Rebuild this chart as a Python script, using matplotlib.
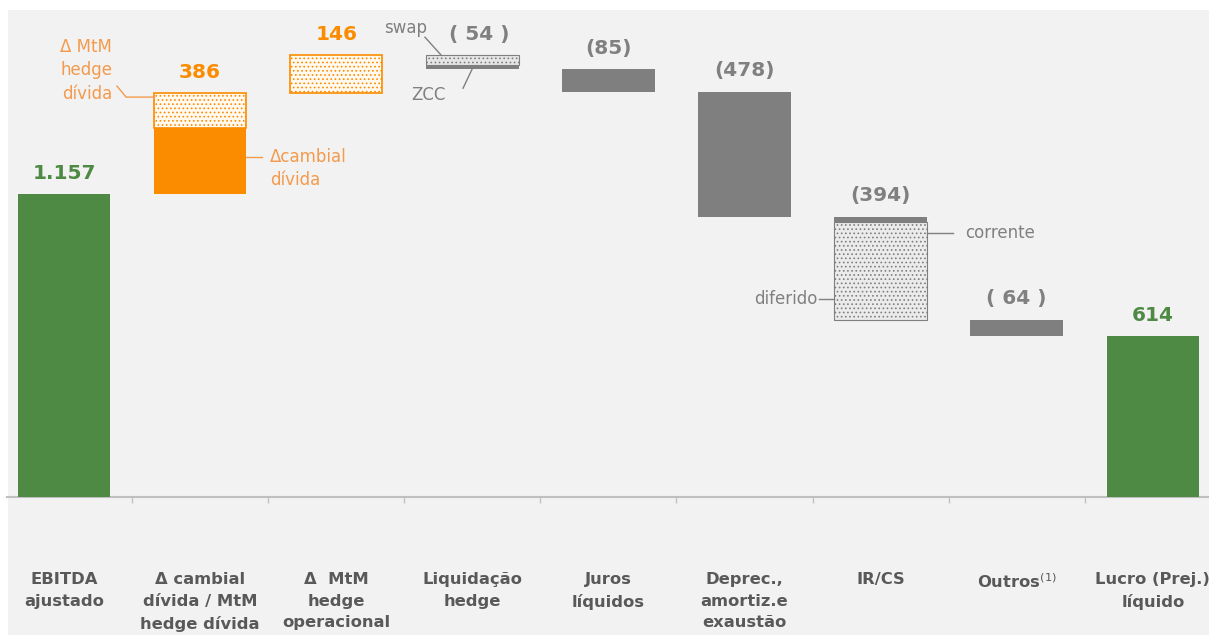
import matplotlib
matplotlib.use("Agg")
import matplotlib.pyplot as plt
from matplotlib.patches import Rectangle

# waterfall data (R$ milhoes)
categories = [
    "EBITDA\najustado",
    "Δ cambial\ndívida / MtM\nhedge dívida",
    "Δ  MtM\nhedge\noperacional",
    "Liquidação\nhedge",
    "Juros\nlíquidos",
    "Deprec.,\namortiz.e\nexaustão",
    "IR/CS",
    "Outros$^{(1)}$",
    "Lucro (Prej.)\nlíquido",
]
values = [1157, 386, 146, -54, -85, -478, -394, -64, 614]
value_labels = ["1.157", "386", "146", "( 54 )", "(85)", "(478)", "(394)", "( 64 )", "614"]
kinds = ["total", "up", "up", "down", "down", "down", "down", "down", "total"]

# breakdown of split bars (drawn from the bottom of each bar upwards)
cambial_split = [252, 134]      # Δcambial dívida (solid), ΔMtM hedge dívida (hatched)
liquidacao_split = [16, 38]     # ZCC (solid), swap (hatched)
ircs_split = [374, 20]          # diferido (hatched), corrente (solid)

GREEN = "#4f8a45"
ORANGE = "#fb8c00"
ORANGE_TXT = "#f39a4c"
GRAY = "#7f7f7f"
GRAY_TXT = "#808080"
LABEL = "#595959"
BG = "#f2f2f2"

plt.rcParams["font.family"] = ["DejaVu Sans"]
plt.rcParams["hatch.linewidth"] = 0.7

fig = plt.figure(figsize=(12.09, 6.35), dpi=100, facecolor="white")
fig.patches.append(Rectangle((8 / 1209, 0), 1, 1 - 10 / 635,
                             transform=fig.transFigure, facecolor=BG,
                             edgecolor="none", zorder=-10))
ax = fig.add_axes([7 / 1209, 1 - 497 / 635, 1 - 7 / 1209, 497 / 635 - 10 / 635])
ax.set_facecolor("none")

w = 0.68
running = 0
tops = []
for i, (v, k) in enumerate(zip(values, kinds)):
    if k == "total":
        bottom, height = 0, v
        running = v
        top = v
    elif k == "up":
        bottom, height = running, v
        running += v
        top = running
    else:
        bottom, height = running + v, -v
        top = running
        running += v
    tops.append(top)

    if i == 0 or i == 8:
        ax.bar(i, height, w, bottom=bottom, color=GREEN, zorder=3)
    elif i == 1:
        ax.bar(i, cambial_split[0], w, bottom=bottom, color=ORANGE, zorder=3)
        ax.bar(i, cambial_split[1], w, bottom=bottom + cambial_split[0],
               facecolor="#fff9f0", edgecolor=ORANGE, hatch="....", lw=1.2, zorder=3)
    elif i == 2:
        ax.bar(i, height, w, bottom=bottom, facecolor="#fff9f0",
               edgecolor=ORANGE, hatch="....", lw=1.2, zorder=3)
    elif i == 3:
        ax.bar(i, liquidacao_split[0], w, bottom=bottom, color=GRAY, zorder=3)
        ax.bar(i, liquidacao_split[1], w, bottom=bottom + liquidacao_split[0],
               facecolor="#e6e6e6", edgecolor=GRAY, hatch="....", lw=0.8, zorder=3)
    elif i == 6:
        ax.bar(i, ircs_split[0], w, bottom=bottom, facecolor="#ebebeb",
               edgecolor=GRAY, hatch="....", lw=0.8, zorder=3)
        ax.bar(i, ircs_split[1], w, bottom=bottom + ircs_split[0], color=GRAY, zorder=3)
    else:
        ax.bar(i, height, w, bottom=bottom, color=GRAY, zorder=3)

# value labels above each bar
for i, (lab, top) in enumerate(zip(value_labels, tops)):
    if kinds[i] == "total":
        c = GREEN
    elif kinds[i] == "up":
        c = ORANGE
    else:
        c = GRAY_TXT
    dx = 5 if i == 3 else 0
    ax.annotate(lab, (i, top), xytext=(dx, 15), textcoords="offset points",
                ha="center", va="center", fontsize=14.5, fontweight="bold", color=c)

# callouts for the split bars
cfs = 12
ax.text(0.353, 1632, "Δ MtM\nhedge\ndívida", ha="right", va="center",
        fontsize=cfs, color=ORANGE_TXT, linespacing=1.4)
ax.plot([0.389, 0.456, 1 - w / 2], [1571, 1529, 1529], color=ORANGE_TXT, lw=1, zorder=4)

ax.text(1.513, 1256, "Δcambial\ndívida", ha="left", va="center",
        fontsize=cfs, color=ORANGE_TXT, linespacing=1.4)
ax.plot([1 + w / 2, 1.455], [1300, 1300], color=ORANGE_TXT, lw=1, zorder=4)

ax.text(2.513, 1793, "swap", ha="center", va="center", fontsize=cfs, color=GRAY_TXT)
ax.plot([2.652, 2.77], [1758, 1690], color=GRAY_TXT, lw=1, zorder=4)
ax.text(2.68, 1537, "ZCC", ha="center", va="center", fontsize=cfs, color=GRAY_TXT)
ax.plot([2.932, 3.005], [1563, 1643], color=GRAY_TXT, lw=1, zorder=4)

ax.text(6.62, 1009, "corrente", ha="left", va="center", fontsize=cfs, color=GRAY_TXT)
ax.plot([6 + w / 2, 6.53], [1009, 1009], color=GRAY_TXT, lw=1, zorder=4)
ax.text(5.533, 757, "diferido", ha="right", va="center", fontsize=cfs, color=GRAY_TXT)
ax.plot([5.55, 6 - w / 2], [757, 757], color=GRAY_TXT, lw=1, zorder=4)

ax.set_xlim(-0.419, 8.413)
ax.set_ylim(0, 1862)
ax.set_yticks([])
for s in ["top", "left", "right"]:
    ax.spines[s].set_visible(False)
ax.spines["bottom"].set_color("#bfbfbf")
ax.spines["bottom"].set_linewidth(1.5)

ax.set_xticks(range(len(categories)))
ax.set_xticklabels(categories, fontsize=11.8, fontweight="bold", color=LABEL, va="top")
for t in ax.get_xticklabels():
    t.set_linespacing(1.55)
ax.tick_params(axis="x", which="major", length=0, pad=54)
ax.set_xticks([i + 0.5 for i in range(len(categories) - 1)], minor=True)
ax.tick_params(axis="x", which="minor", length=4, color="#bfbfbf", width=1)

fig.savefig("out.png", dpi=100, facecolor=fig.get_facecolor())
